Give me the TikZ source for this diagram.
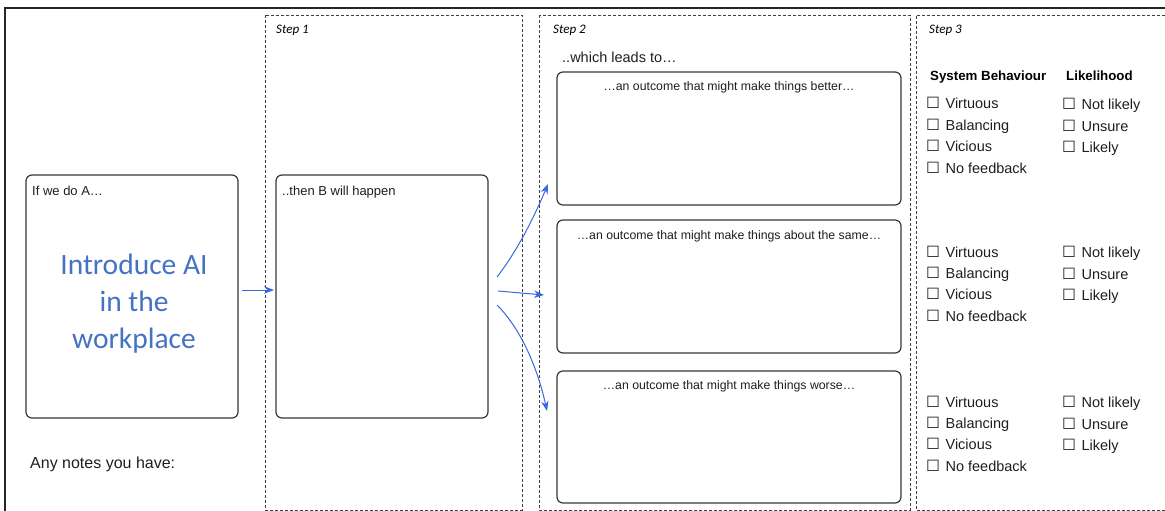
\documentclass[tikz,border=0pt]{standalone}
\usepackage{fontspec}
\setmainfont{Liberation Sans}
\newfontfamily\calib{Carlito}
\newfontfamily\djv{DejaVu Sans}
\usetikzlibrary{arrows.meta}
\definecolor{aiblue}{RGB}{68,114,196}
\definecolor{arrblue}{RGB}{55,105,225}
\definecolor{boxgray}{RGB}{55,55,55}
\definecolor{txt}{RGB}{30,30,30}
\newcommand\cbx[1]{{\djv\fontsize{15.5}{15.5}\selectfont ☐}\hspace{5.5pt}#1}
\tikzset{
  colbox/.style={draw=black!75, line width=0.8pt, dash pattern=on 3pt off 2pt},
  rbox/.style={draw=boxgray, line width=1.2pt, rounded corners=6pt},
  steplbl/.style={font=\calib\itshape\fontsize{13}{15}\selectfont, anchor=base west, inner sep=0pt},
  boxlbl/.style={font=\fontsize{13}{15}\selectfont, anchor=base west, inner sep=0pt, text=txt},
  outlbl/.style={font=\fontsize{12.3}{14}\selectfont, anchor=base, inner sep=0pt, text=txt},
  item/.style={font=\fontsize{14.5}{16}\selectfont, anchor=base west, inner sep=0pt, text=txt},
  head/.style={font=\bfseries\fontsize{13.3}{15}\selectfont, anchor=base west, inner sep=0pt},
  flow/.style={draw=arrblue, line width=1pt, -{Stealth[length=10pt,width=7.5pt]}}
}
\begin{document}
\begin{tikzpicture}[x=1pt,y=-1pt]
\useasboundingbox (0,0) rectangle (1165,511);
% outer frame
\draw[line width=1.3pt, black!85] (5,515) -- (5,8) -- (1170,8);
% dashed columns
\draw[colbox] (265,15) rectangle (522,510);
\draw[colbox] (539,15) rectangle (910,510);
\draw[colbox] (1170,15) -- (916,15) -- (916,510) -- (1170,510);
\node[steplbl] (s1) at (276,34) {Step 1};
\node[steplbl] (s2) at (553,34) {Step 2};
\node[steplbl] (s3) at (929,34) {Step 3};
% box A
\draw[rbox] (26,175) rectangle (238,418);
\coordinate (Ae) at (242,290);
\node[boxlbl] (alab) at (32,195) {If we do A…};
\node[font=\calib\fontsize{29.5}{37}\selectfont, text=aiblue, align=center, inner sep=0pt] (ai) at (134,304) {Introduce AI\\in the\\workplace};
\node[font=\fontsize{16}{18}\selectfont, anchor=base west, inner sep=0pt, text=txt] (notes) at (30,468) {Any notes you have:};
% box B
\draw[rbox] (276,175) rectangle (488,418);
\coordinate (Bw) at (274,290);
\node[boxlbl] (blab) at (282,195) {..then B will happen};
% step 2
\node[font=\fontsize{14.5}{16}\selectfont, anchor=base west, inner sep=0pt, text=txt] (leads) at (562,63) {..which leads to…};
\draw[rbox] (557,72) rectangle (901,205);
\draw[rbox] (557,220) rectangle (901,353);
\draw[rbox] (557,371) rectangle (901,503);
\node[outlbl] (o1) at (729,90) {…an outcome that might make things better…};
\node[outlbl] (o2) at (729,239) {…an outcome that might make things about the same…};
\node[outlbl] (o3) at (729,389) {…an outcome that might make things worse…};
% arrows
\coordinate (b1) at (497,277);
\coordinate (b2) at (498,291);
\coordinate (b3) at (497,305);
\coordinate (t1) at (548,184);
\coordinate (t2) at (544,295);
\coordinate (t3) at (547,411);
\draw[flow] (Ae) -- (Bw);
\draw[flow] (b1) .. controls (518,250) and (535,215) .. (t1);
\draw[flow] (b2) -- (t2);
\draw[flow] (b3) .. controls (522,330) and (538,370) .. (t3);
% step 3
\node[head] (hsb) at (930,81) {System Behaviour};
\node[head] (hlk) at (1066,81) {Likelihood};
\foreach \g/\y in {1/109,2/257,3/407}{
  \node[item] (v\g) at (926,\y) {\cbx{Virtuous}};
  \node[item] (b\g) at (926,\y+21.3) {\cbx{Balancing}};
  \node[item] (c\g) at (926,\y+42.6) {\cbx{Vicious}};
  \node[item] (n\g) at (926,\y+64) {\cbx{No feedback}};
  \node[item] (nl\g) at (1062,\y+0.7) {\cbx{Not likely}};
  \node[item] (un\g) at (1062,\y+22) {\cbx{Unsure}};
  \node[item] (lk\g) at (1062,\y+43.3) {\cbx{Likely}};
}
\end{tikzpicture}
\end{document}
